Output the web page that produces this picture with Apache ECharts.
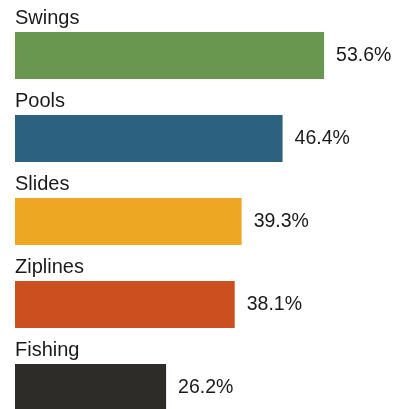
<!DOCTYPE html>
<html>
<head>
<meta charset="utf-8">
<script src="https://cdn.jsdelivr.net/npm/echarts@6/dist/echarts.min.js"></script>
<style>
  html, body { margin: 0; padding: 0; background: #ffffff; }
  #chart { width: 396px; height: 409px; }
</style>
</head>
<body>
<div id="chart"></div>
<script>
// Share of visitors naming each attraction (%)
const activities = ['Swings', 'Pools', 'Slides', 'Ziplines', 'Fishing'];
const shares = [53.6, 46.4, 39.3, 38.1, 26.2];
const barColors = ['#6a9750', '#2d6180', '#eda723', '#cc4f1f', '#2e2c29'];

const FONT = '"Liberation Sans", Arial, sans-serif';
const TEXT = '#1a1a1a';

const chart = echarts.init(document.getElementById('chart'), null, { renderer: 'canvas' });

chart.setOption({
  animation: false,
  grid: { left: 15, top: 14, width: 346, height: 415, outerBoundsMode: 'none', containLabel: false },
  xAxis: {
    type: 'value', min: 0, max: 60, show: false
  },
  yAxis: {
    type: 'category', data: activities, inverse: true, show: false
  },
  series: [
    {
      // value bars with their percentage to the right
      type: 'bar',
      barWidth: 47,
      data: shares.map((v, i) => ({ value: v, itemStyle: { color: barColors[i] } })),
      label: {
        show: true,
        position: 'right',
        distance: 12,
        formatter: p => p.value.toFixed(1) + '%',
        fontFamily: FONT,
        fontSize: 19.5,
        color: TEXT
      }
    },
    {
      // invisible twin bars carrying the activity name above each bar
      type: 'bar',
      barWidth: 47,
      barGap: '-100%',
      silent: true,
      data: shares,
      itemStyle: { color: 'rgba(0,0,0,0)' },
      label: {
        show: true,
        position: [0, -4],
        align: 'left',
        verticalAlign: 'bottom',
        formatter: p => p.name,
        fontFamily: FONT,
        fontSize: 20,
        color: TEXT
      }
    }
  ]
});
</script>
</body>
</html>
